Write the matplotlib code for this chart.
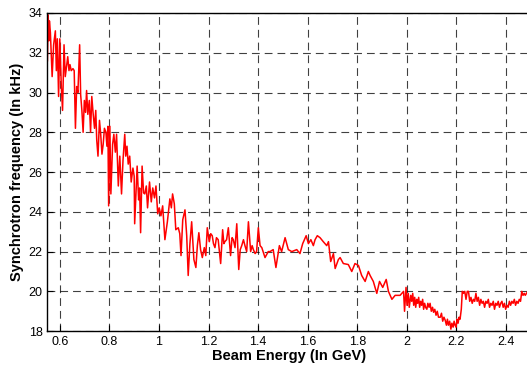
import matplotlib
matplotlib.use("Agg")
import matplotlib.pyplot as plt

energy = [
    0.550, 0.553, 0.556, 0.558, 0.562, 0.569, 0.575, 0.582, 0.586, 0.590,
    0.595, 0.600, 0.606, 0.611, 0.617, 0.622, 0.627, 0.632, 0.637, 0.641,
    0.646, 0.653, 0.658, 0.663, 0.668, 0.673, 0.680, 0.684, 0.689, 0.694,
    0.699, 0.704, 0.708, 0.713, 0.719, 0.724, 0.729, 0.734, 0.740, 0.745,
    0.749, 0.754, 0.760, 0.765, 0.770, 0.775, 0.780, 0.786, 0.790, 0.794,
    0.797, 0.802, 0.806, 0.813, 0.818, 0.824, 0.829, 0.836, 0.842, 0.849,
    0.855, 0.862, 0.866, 0.871, 0.876, 0.882, 0.888, 0.895, 0.900, 0.902,
    0.908, 0.912, 0.918, 0.922, 0.926, 0.932, 0.938, 0.943, 0.949, 0.954,
    0.962, 0.969, 0.975, 0.982, 0.988, 0.995, 1.001, 1.008, 1.015, 1.024,
    1.034, 1.044, 1.050, 1.055, 1.062, 1.068, 1.078, 1.084, 1.089, 1.096,
    1.105, 1.112, 1.118, 1.125, 1.132, 1.141, 1.149, 1.155, 1.161, 1.168,
    1.175, 1.183, 1.189, 1.195, 1.203, 1.209, 1.215, 1.220, 1.226, 1.232,
    1.239, 1.249, 1.257, 1.262, 1.266, 1.273, 1.280, 1.289, 1.295, 1.300,
    1.307, 1.314, 1.322, 1.328, 1.334, 1.341, 1.347, 1.354, 1.361, 1.370,
    1.376, 1.381, 1.388, 1.394, 1.401, 1.408, 1.415, 1.428, 1.441, 1.448,
    1.461, 1.472, 1.486, 1.495, 1.509, 1.522, 1.536, 1.556, 1.569, 1.580,
    1.594, 1.603, 1.613, 1.623, 1.630, 1.639, 1.650, 1.663, 1.677, 1.684,
    1.693, 1.704, 1.711, 1.724, 1.731, 1.744, 1.764, 1.778, 1.791, 1.805,
    1.818, 1.832, 1.845, 1.852, 1.865, 1.879, 1.890, 1.903, 1.917, 1.926,
    1.940, 1.953, 1.973, 1.987, 1.991, 1.997, 2.001, 2.006, 2.010, 2.016,
    2.020, 2.024, 2.028, 2.032, 2.036, 2.040, 2.044, 2.048, 2.052, 2.056,
    2.060, 2.064, 2.068, 2.072, 2.076, 2.081, 2.085, 2.090, 2.094, 2.099,
    2.104, 2.108, 2.113, 2.118, 2.123, 2.128, 2.135, 2.140, 2.145, 2.150,
    2.155, 2.160, 2.164, 2.168, 2.173, 2.178, 2.182, 2.187, 2.191, 2.195,
    2.199, 2.203, 2.207, 2.211, 2.215, 2.220, 2.224, 2.229, 2.234, 2.239,
    2.244, 2.249, 2.254, 2.259, 2.264, 2.269, 2.274, 2.279, 2.284, 2.289,
    2.294, 2.299, 2.304, 2.309, 2.314, 2.319, 2.324, 2.329, 2.334, 2.339,
    2.344, 2.349, 2.354, 2.359, 2.364, 2.369, 2.374, 2.379, 2.384, 2.389,
    2.394, 2.399, 2.404, 2.409, 2.414, 2.419, 2.424, 2.429, 2.434, 2.439,
    2.444, 2.449, 2.454, 2.459, 2.464, 2.469, 2.474, 2.478, 2.483, 2.488,
    2.492,
]
freq = [
    31.6, 33.9, 32.6, 33.6, 33.0, 30.8, 32.4, 33.1, 31.1, 32.7,
    29.8, 32.7, 30.3, 29.1, 32.4, 30.8, 31.3, 31.8, 31.1, 31.4,
    31.1, 31.2, 31.1, 28.2, 30.3, 30.0, 32.4, 29.9, 29.1, 28.0,
    29.6, 29.0, 30.1, 28.9, 29.6, 28.0, 29.8, 29.0, 28.2, 29.1,
    27.6, 26.8, 28.6, 27.9, 26.9, 27.4, 28.2, 28.0, 27.3, 28.3,
    24.3, 28.3, 24.9, 27.4, 27.9, 27.0, 27.9, 25.3, 26.8, 24.9,
    26.6, 27.9, 26.8, 27.3, 26.4, 26.8, 25.5, 26.2, 25.8, 23.4,
    25.2, 26.3, 24.6, 25.2, 22.95, 26.3, 24.95, 24.9, 25.3, 24.2,
    25.5, 24.5, 25.2, 24.7, 25.3, 23.9, 24.2, 23.8, 24.3, 22.6,
    23.5, 24.65, 24.2, 24.9, 24.4, 23.1, 23.2, 22.9, 21.8, 23.6,
    24.1, 22.8, 20.8, 22.4, 23.5, 21.6, 21.2, 22.3, 22.95, 22.1,
    21.7, 22.2, 21.8, 23.2, 22.5, 22.9, 22.8, 22.4, 22.2, 22.7,
    22.6, 21.4, 23.1, 22.4, 22.5, 22.6, 23.2, 21.8, 22.7, 22.6,
    22.2, 23.4, 21.1, 22.1, 22.3, 22.6, 22.3, 22.0, 23.5, 22.0,
    22.3, 22.1, 21.9, 22.0, 23.2, 22.3, 22.2, 21.7, 22.0, 22.0,
    22.1, 21.2, 22.3, 22.0, 22.7, 22.1, 22.0, 22.1, 21.9, 22.4,
    22.8, 22.4, 22.6, 22.3, 22.6, 22.8, 22.7, 22.5, 22.3, 22.5,
    21.5, 21.9, 21.15, 21.6, 21.7, 21.4, 21.35, 21.0, 21.4, 21.3,
    20.8, 20.5, 21.0, 20.8, 20.5, 19.9, 20.5, 20.2, 20.6, 20.0,
    19.6, 19.8, 19.8, 20.0, 19.0, 20.2, 19.3, 19.9, 19.2, 19.8,
    19.5, 19.9, 19.3, 19.7, 19.2, 19.6, 19.4, 19.7, 19.2, 19.5,
    19.3, 19.6, 19.1, 19.4, 19.2, 19.1, 19.4, 19.2, 19.4, 19.0,
    19.2, 18.95, 19.1, 18.8, 19.0, 18.7, 18.7, 18.9, 18.5, 18.7,
    18.55, 18.3, 18.6, 18.3, 18.5, 18.1, 18.4, 18.2, 18.5, 18.3,
    18.2, 18.6, 18.4, 18.7, 18.6, 19.1, 20.0, 19.9, 20.0, 19.6,
    20.0, 20.0, 19.5, 19.7, 19.4, 19.6, 19.5, 19.9, 19.5, 19.7,
    19.3, 19.6, 19.4, 19.5, 19.2, 19.5, 19.4, 19.6, 19.2, 19.4,
    19.3, 19.5, 19.1, 19.4, 19.3, 19.5, 19.2, 19.4, 19.5, 19.2,
    19.4, 19.1, 19.3, 19.2, 19.5, 19.3, 19.5, 19.4, 19.6, 19.3,
    19.5, 19.4, 19.6, 19.5, 20.0, 19.8, 19.9, 19.8, 19.9, 20.0,
    19.8,
]

xticks = [0.6, 0.8, 1.0, 1.2, 1.4, 1.6, 1.8, 2.0, 2.2, 2.4]
xtick_labels = ["0.6", "0.8", "1", "1.2", "1.4", "1.6", "1.8", "2", "2.2", "2.4"]
yticks = [18, 20, 22, 24, 26, 28, 30, 32, 34]

plt.rcParams['font.family'] = ['Liberation Sans', 'DejaVu Sans']

fig = plt.figure(figsize=(5.27, 3.70), dpi=100)
ax = fig.add_axes([0.090, 0.105, 0.917, 0.860])

ax.plot(energy, freq, color='red', linewidth=1.1)

ax.set_xlim(0.55, 2.5)
ax.set_ylim(18, 34)
ax.set_xticks(xticks)
ax.set_xticklabels(xtick_labels)
ax.set_yticks(yticks)
ax.tick_params(direction='in', labelsize=9, length=4, colors='black')
ax.grid(True, color='black', linestyle=(0, (7, 4.5)), linewidth=0.8, alpha=0.75)
for s in ax.spines.values():
    s.set_linewidth(1.0)

ax.set_xlabel("Beam Energy (In GeV)", fontsize=10.5, fontweight='bold', labelpad=1)
ax.set_ylabel("Synchrotron frequency (In kHz)", fontsize=10.5, fontweight='bold', labelpad=3)

fig.savefig("out.png", dpi=100)
